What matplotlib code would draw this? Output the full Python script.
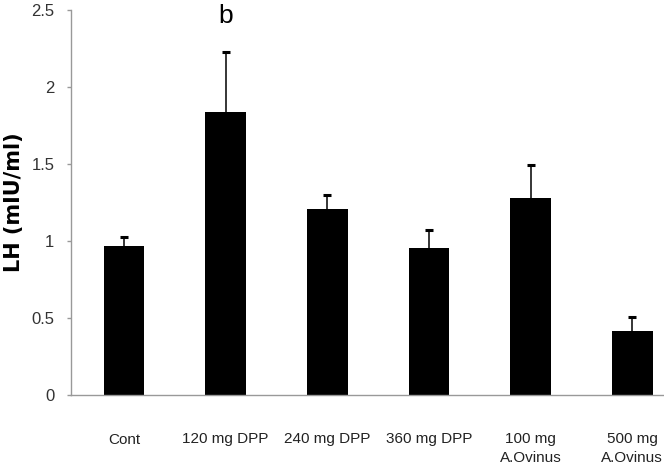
import matplotlib
matplotlib.use("Agg")
import matplotlib.pyplot as plt

categories = ["Cont", "120 mg DPP", "240 mg DPP", "360 mg DPP", "100 mg\nA.Ovinus", "500 mg\nA.Ovinus"]
lh_values = [0.97, 1.84, 1.21, 0.955, 1.277, 0.414]
lh_errors = [0.053, 0.39, 0.09, 0.115, 0.215, 0.092]
annotations = ["", "b", "", "", "", ""]

tick_font = ["Liberation Sans", "DejaVu Sans"]

fig = plt.figure(figsize=(6.64, 4.70), dpi=100)
ax = fig.add_axes([71/664, 75/470, 610/664, 385/470])

x = list(range(len(categories)))
ax.bar(x, lh_values, width=0.40, color="black", linewidth=0, zorder=2)
eb = ax.errorbar(x, lh_values, yerr=[[0]*len(lh_errors), lh_errors], fmt="none",
                 ecolor="black", elinewidth=1.1, capsize=2.9, capthick=2.2, zorder=3)
# hide the lower (zero-length) caps
eb[1][0].set_visible(False)

for xi, (v, e, a) in enumerate(zip(lh_values, lh_errors, annotations)):
    if a:
        ax.text(xi, 2.46, a, ha="center", va="center", fontsize=19,
                family=tick_font, clip_on=False)

ax.set_xlim(-0.52, 5.48)
ax.set_ylim(0, 2.5)
ax.set_yticks([0, 0.5, 1, 1.5, 2, 2.5])
ax.set_yticklabels(["0", "0.5", "1", "1.5", "2", "2.5"], family=tick_font, fontsize=12, color="#333333")
ax.set_xticks(x)
ax.set_xticklabels(categories, family=tick_font, fontsize=11, color="#222222", linespacing=1.45)

for s in ["top", "right"]:
    ax.spines[s].set_visible(False)
for s in ["left", "bottom"]:
    ax.spines[s].set_color("#999999")
    ax.spines[s].set_linewidth(1.0)

ax.tick_params(axis="y", direction="out", length=3, width=1, color="#999999", pad=9)
ax.tick_params(axis="x", length=0, pad=27)

ax.set_ylabel("LH (mIU/ml)", fontsize=15, fontweight="bold", family="DejaVu Sans")
ax.yaxis.set_label_coords(-0.077, 0.5)

fig.savefig("out.png", dpi=100)
